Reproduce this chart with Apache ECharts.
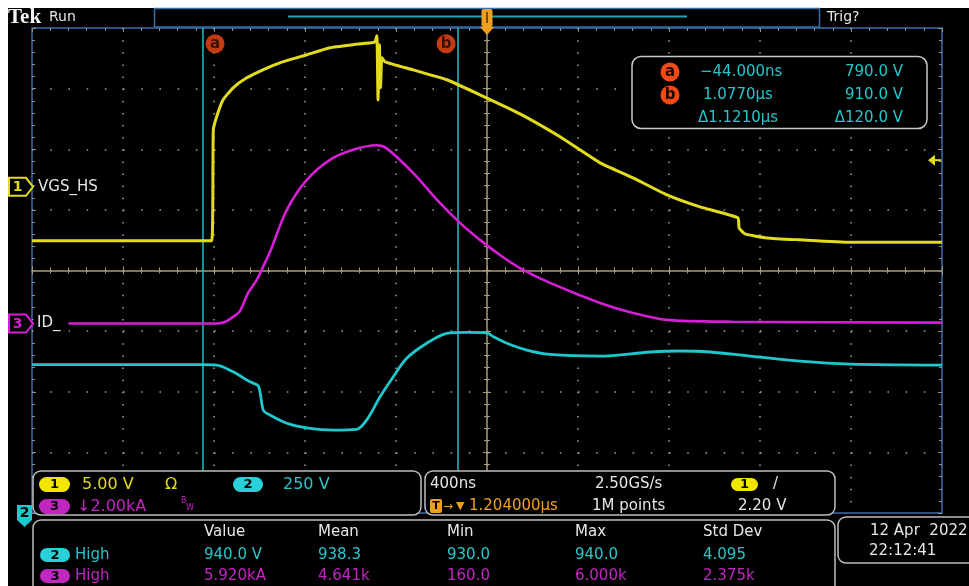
<!DOCTYPE html>
<html><head><meta charset="utf-8">
<script src="https://cdn.jsdelivr.net/npm/echarts@6/dist/echarts.min.js"></script>
<style>html,body{margin:0;padding:0;background:#fff;} #c{width:969px;height:586px;}</style>
</head><body><div id="c"></div>
<script>
// ---- horizontal settings (µs) ----
const timePerDiv = 0.4;      // 400 ns/div
const horizPos = 1.204;      // time at screen centre
// ---- channel settings ----
const ch1Scale = 5,    ch1Pos = 1.38;   // V/div, divisions
const ch2Scale = 250,  ch2Pos = -4.72;  // V/div
const ch3Scale = 2,    ch3Pos = -0.875; // kA/div
const trigLevel = 2.2;

// ---- waveform data ----
const ch1Time  = [-0.796,-0.006,0.001,0.016,0.044,0.088,0.148,0.219,0.294,0.412,0.514,0.615,0.703,0.712,0.720,0.725,0.731,0.736,0.742,0.756,0.879,1.027,1.173,1.349,1.525,1.701,1.846,1.995,2.140,2.307,2.312,2.338,2.435,2.580,2.800,3.204];
const ch1Volts = [-4.45,-4.45,4.70,5.80,7.18,8.17,8.99,9.65,10.23,10.89,11.47,11.72,11.90,11.96,12.46,7.18,11.72,8.17,10.64,10.31,9.65,8.83,7.59,6.02,4.13,1.98,0.74,-0.66,-1.65,-2.56,-3.38,-3.88,-4.21,-4.37,-4.58,-4.58];

const ch2Time  = [-0.796,-0.058,0.016,0.088,0.162,0.199,0.221,0.250,0.324,0.412,0.527,0.631,0.675,0.734,0.792,0.851,0.939,1.027,1.115,1.203,1.232,1.291,1.379,1.481,1.701,1.920,2.052,2.184,2.360,2.580,2.800,3.204];
const ch2Volts = [792,792,790,762,721,703,604,584,550,531,522,525,563,659,742,818,880,921,925,923,907,880,852,834,827,844,848,844,827,806,794,790];

const ch3Time  = [-0.796,0.016,0.052,0.088,0.118,0.154,0.192,0.219,0.250,0.324,0.412,0.514,0.615,0.719,0.763,0.879,0.997,1.085,1.173,1.261,1.349,1.481,1.701,1.846,1.995,2.285,3.204];
const ch3Amps  = [0.0,0.0,0.05,0.22,0.41,1.01,1.44,1.86,2.36,3.75,4.74,5.40,5.73,5.88,5.78,4.97,3.98,3.32,2.76,2.26,1.83,1.34,0.68,0.35,0.12,0.06,0.03];

const cursorNames = ['a','b'];
const cursorTimes = [-0.044, 1.077];
const cursorReadTime = ['\u221244.000ns','1.0770\u00b5s','\u03941.1210\u00b5s'];
const cursorReadVal  = ['790.0 V','910.0 V','\u0394120.0 V'];

const measHeaders = ['Value','Mean','Min','Max','Std Dev'];
const meas2 = ['940.0 V','938.3','930.0','940.0','4.095'];
const meas3 = ['5.920kA','4.641k','160.0','6.000k','2.375k'];

// ---- helpers ----
const FONT = '"DejaVu Sans", sans-serif';
const YEL='#e2dc1c', CYN='#1ec8cc', MAG='#d61ed6', ORG='#f0a020';
const YELT='#e4dc10', CYNT='#22c8cc', MAGT='#c424c4';
const DOT='#9a9a9a', BEIGE='#a89a76', BORDER='#3b6ea8', TICK='#909090', WHITE='#e6e6e6';
const toDiv = t => (t - horizPos) / timePerDiv;
const pairs = (ts, vs) => ts.map((t, i) => [toDiv(t), vs[i]]);
const chAxis = (scale, pos) => ({type:'value', show:false, gridIndex:0, min:(-4-pos)*scale, max:(4-pos)*scale});
const cursorLabelDiv = 3.74;

const chart = echarts.init(document.getElementById('c'), null, {renderer:'canvas'});

const xBase = {type:'value', min:-5, max:5, interval:1, axisLabel:{show:false}, splitLine:{show:false}};
const yBase = {type:'value', min:-4, max:4, interval:1, axisLabel:{show:false}, splitLine:{show:false}};
const tickSet = (color, inside) => ({
  axisTick:{show:true, inside:inside, length:4, lineStyle:{color:color, width:1}},
  minorTick:{show:true, splitNumber:5, length:3, lineStyle:{color:color, width:1}}
});

const option = {
  backgroundColor:'#fff',
  animation:false,
  grid:{left:32, right:27, top:28, bottom:73, show:true, borderColor:BORDER, borderWidth:1.5, backgroundColor:'transparent'},
  xAxis:[
    Object.assign({}, xBase, tickSet(BEIGE,false), {position:'bottom',
      axisLine:{show:true, onZero:true, onZeroAxisIndex:0, lineStyle:{color:BEIGE, width:1.5}},
      splitLine:{show:true, showMinLine:false, showMaxLine:false, lineStyle:{color:DOT, width:1.6, type:[1.6, 12.125-1.6]}}}),
    Object.assign({}, xBase, tickSet(BEIGE,false), {position:'top',
      axisLine:{show:false, onZero:true, onZeroAxisIndex:0}}),
    Object.assign({}, xBase, tickSet(TICK,true), {position:'top',
      axisLine:{show:false, onZero:false}})
  ],
  yAxis:[
    Object.assign({}, yBase, tickSet(BEIGE,false), {position:'left',
      axisLine:{show:true, onZero:true, onZeroAxisIndex:0, lineStyle:{color:BEIGE, width:1.5}},
      splitLine:{show:true, showMinLine:false, showMaxLine:false, lineStyle:{color:DOT, width:1.6, type:[1.6, 18.2-1.6]}}}),
    Object.assign({}, yBase, tickSet(BEIGE,false), {position:'right',
      axisLine:{show:false, onZero:true, onZeroAxisIndex:0}}),
    Object.assign({}, yBase, tickSet(TICK,true), {position:'left', axisLine:{show:false, onZero:false}}),
    Object.assign({}, yBase, tickSet(TICK,true), {position:'right', axisLine:{show:false, onZero:false}}),
    chAxis(ch1Scale, ch1Pos),
    chAxis(ch2Scale, ch2Pos),
    chAxis(ch3Scale, ch3Pos)
  ],
  series:[
    {name:'VGS_HS', type:'line', xAxisIndex:0, yAxisIndex:4, data:pairs(ch1Time, ch1Volts),
     showSymbol:false, symbol:'none', smooth:0.15, lineStyle:{color:YEL, width:3}, z:5},
    {name:'CH2', type:'line', xAxisIndex:0, yAxisIndex:5, data:pairs(ch2Time, ch2Volts),
     showSymbol:false, symbol:'none', smooth:0.3, lineStyle:{color:CYN, width:2.8}, z:5},
    {name:'ID_', type:'line', xAxisIndex:0, yAxisIndex:6, data:pairs(ch3Time, ch3Amps),
     showSymbol:false, symbol:'none', smooth:0.3, lineStyle:{color:MAG, width:2.6}, z:5},
    {name:'cursors', type:'scatter', xAxisIndex:0, yAxisIndex:0, z:6,
     data:cursorTimes.map((t,i)=>({name:cursorNames[i], value:[toDiv(t), cursorLabelDiv], symbolOffset:[i===0?12:-12,0]})),
     symbol:'circle', symbolSize:19, itemStyle:{color:'#f24a16'},
     label:{show:true, position:'inside', formatter:'{b}', color:'#1a0500', fontSize:15, fontWeight:'bold', fontFamily:FONT},
     markLine:{silent:true, symbol:'none', label:{show:false}, lineStyle:{color:'#18c4cc', width:1.5, type:'solid'},
       data:cursorTimes.map(t=>({xAxis:toDiv(t)}))}}
  ]
};
chart.setOption(option);

// ---- annotations positioned through the axes ----
const pxY = (idx, v) => chart.convertToPixel({yAxisIndex:idx}, v);
const pxX = v => chart.convertToPixel({xAxisIndex:0}, v);
const ch1Y = pxY(4, 0), ch3Y = pxY(6, 0), trigY = pxY(4, trigLevel);
const gridBottom = pxY(0, -4);
const ch2Ground = pxY(5, 0);
const midX = pxX(0);

function T(x, y, s, color, size, o) {
  o = o || {};
  const al = o.align || 'left';
  return {type:'text', x:x, y:y, z:o.z||110, silent:true,
    style:{text:s, fill:color, font:(o.bold?'bold ':'')+size+'px '+(o.family||FONT),
      align:al, verticalAlign:'middle', textAlign:al, textVerticalAlign:'middle'}};
}
function R(x, y, w, h, r, fill, stroke, lw, z) {
  return {type:'rect', z:z||100, silent:true, shape:{x:x, y:y, width:w, height:h, r:r},
    style:{fill:fill||'none', stroke:stroke||null, lineWidth:lw||0}};
}
function pill(x, y, w, h, color, label) {
  return [R(x, y, w, h, h/2, color, null, 0, 105), T(x+w/2, y+h/2+0.5, label, '#000', 13, {bold:true, align:'center'})];
}
function P(points, fill, stroke, lw, z) {
  return {type:'polygon', z:z||105, silent:true, shape:{points:points}, style:{fill:fill, stroke:stroke||null, lineWidth:lw||0}};
}

const g = [];
g.push(R(8, 8, 961, 578, 0, '#000', null, 0, -100));
// top bar
g.push(T(8, 18, 'Tek', '#f4f4f4', 21, {bold:true, family:'"Liberation Serif", serif'}));
g.push(T(49, 17, 'Run', WHITE, 14));
g.push(R(154.5, 8.5, 665, 18.5, 0, 'none', BORDER, 1.5, 100));
g.push({type:'line', z:101, silent:true, shape:{x1:288, y1:16.5, x2:687, y2:16.5}, style:{stroke:'#1aa8b4', lineWidth:2}});
g.push(T(827, 17, 'Trig?', WHITE, 14));
// trigger / delay marker
g.push(R(midX-5.5, 9, 11, 18, 2, ORG, null, 0, 102));
g.push(R(midX-1, 12, 2, 11, 0, '#7a4a00', null, 0, 103));
g.push(P([[midX-7,27],[midX+7,27],[midX,35]], ORG, null, 0, 102));
// cursor readout box
g.push(R(632, 56.5, 295, 72, 9, '#000', '#c8c8c8', 1.5, 100));
[72, 95].forEach((y, i) => {
  g.push({type:'circle', z:105, silent:true, shape:{cx:670, cy:y, r:9.5}, style:{fill:'#f24a16'}});
  g.push(T(670, y+0.5, cursorNames[i], '#1a0500', 15, {bold:true, align:'center'}));
});
[72, 95, 118].forEach((y, i) => {
  g.push(T(i===0?700:(i===1?703:698), y, cursorReadTime[i], CYNT, 15));
  g.push(T(903, y, cursorReadVal[i], CYNT, 15, {align:'right'}));
});
// channel labels & ground markers
g.push(T(38, ch1Y, 'VGS_HS', WHITE, 15));
g.push(R(33.5, ch3Y-10, 35, 20, 0, '#000', null, 0, 50));
g.push(T(37, ch3Y, 'ID_', WHITE, 15));
g.push(P([[9,ch1Y-9],[26,ch1Y-9],[33,ch1Y],[26,ch1Y+9],[9,ch1Y+9]], '#000', YEL, 2));
g.push(T(17.5, ch1Y+0.5, '1', YEL, 14, {bold:true, align:'center'}));
g.push(P([[9,ch3Y-9],[26,ch3Y-9],[33,ch3Y],[26,ch3Y+9],[9,ch3Y+9]], '#000', MAG, 2));
g.push(T(17.5, ch3Y+0.5, '3', MAG, 14, {bold:true, align:'center'}));
const m2 = Math.min(ch2Ground, gridBottom);
g.push(P([[17,m2-8],[32,m2-8],[32,m2+7],[24.5,m2+14],[17,m2+7]], CYN, null, 0, 120));
g.push(T(24.5, m2, '2', '#000', 14, {bold:true, align:'center', z:121}));
// trigger level arrow
g.push(P([[928,trigY],[935,trigY-5.5],[935,trigY+5.5]], YEL, null, 0, 105));
g.push({type:'line', z:105, silent:true, shape:{x1:934, y1:trigY, x2:941, y2:trigY}, style:{stroke:YEL, lineWidth:2}});
// bottom panels
g.push(R(33, 471, 388, 44, 8, '#000', '#bdbdbd', 1.5, 100));
g.push(R(425, 471, 410, 44, 8, '#000', '#bdbdbd', 1.5, 100));
g.push(R(33, 520, 802, 80, 8, '#000', '#bdbdbd', 1.5, 100));
g.push(R(838, 517, 140, 46, 8, '#000', '#bdbdbd', 1.5, 100));
// panel 1
g.push(...pill(39, 477, 31, 15, '#f2e600', '1'));
g.push(T(82, 484.5, '5.00 V', YELT, 16));
g.push(T(165, 484.5, '\u03a9', YELT, 16));
g.push(...pill(233, 477, 30, 15, '#28d0d8', '2'));
g.push(T(283, 484.5, '250 V', CYNT, 16));
g.push(...pill(39, 499, 31, 15, '#c026c0', '3'));
g.push(T(77, 506.5, '\u21932.00kA', MAGT, 16));
g.push(T(181, 501, 'B', MAGT, 8));
g.push(T(186, 508, 'W', MAGT, 8));
// panel 2
g.push(T(430, 484.5, '400ns', WHITE, 15));
g.push(T(595, 484.5, '2.50GS/s', WHITE, 15));
g.push(...pill(731, 478, 27, 13, '#f2e600', '1'));
g.push(T(773, 484.5, '/', WHITE, 15));
g.push(R(430, 499, 12, 14, 2, ORG, null, 0, 105));
g.push(T(436, 506.5, 'T', '#000', 11, {bold:true, align:'center'}));
g.push(T(443, 506.5, '\u2192', ORG, 12));
g.push(T(456, 506.5, '\u25bc', ORG, 11));
g.push(T(469, 506.5, '1.204000\u00b5s', ORG, 15));
g.push(T(592, 506.5, '1M points', WHITE, 15));
g.push(T(738, 506.5, '2.20 V', WHITE, 15));
// measurement table
const cols = [204, 318, 447, 575, 703];
measHeaders.forEach((h, i) => g.push(T(cols[i], 532, h, WHITE, 15)));
g.push(...pill(40, 548, 30, 14, '#28d0d8', '2'));
g.push(T(75, 555, 'High', CYNT, 15));
meas2.forEach((v, i) => g.push(T(cols[i], 555, v, CYNT, 15)));
g.push(...pill(40, 569, 30, 14, '#c026c0', '3'));
g.push(T(75, 576, 'High', MAGT, 15));
meas3.forEach((v, i) => g.push(T(cols[i], 576, v, MAGT, 15)));
// date
g.push(T(870, 531, '12 Apr  2022', WHITE, 15));
g.push(T(869, 551, '22:12:41', WHITE, 15));

chart.setOption({graphic:{elements:g}});
</script>
</body></html>
